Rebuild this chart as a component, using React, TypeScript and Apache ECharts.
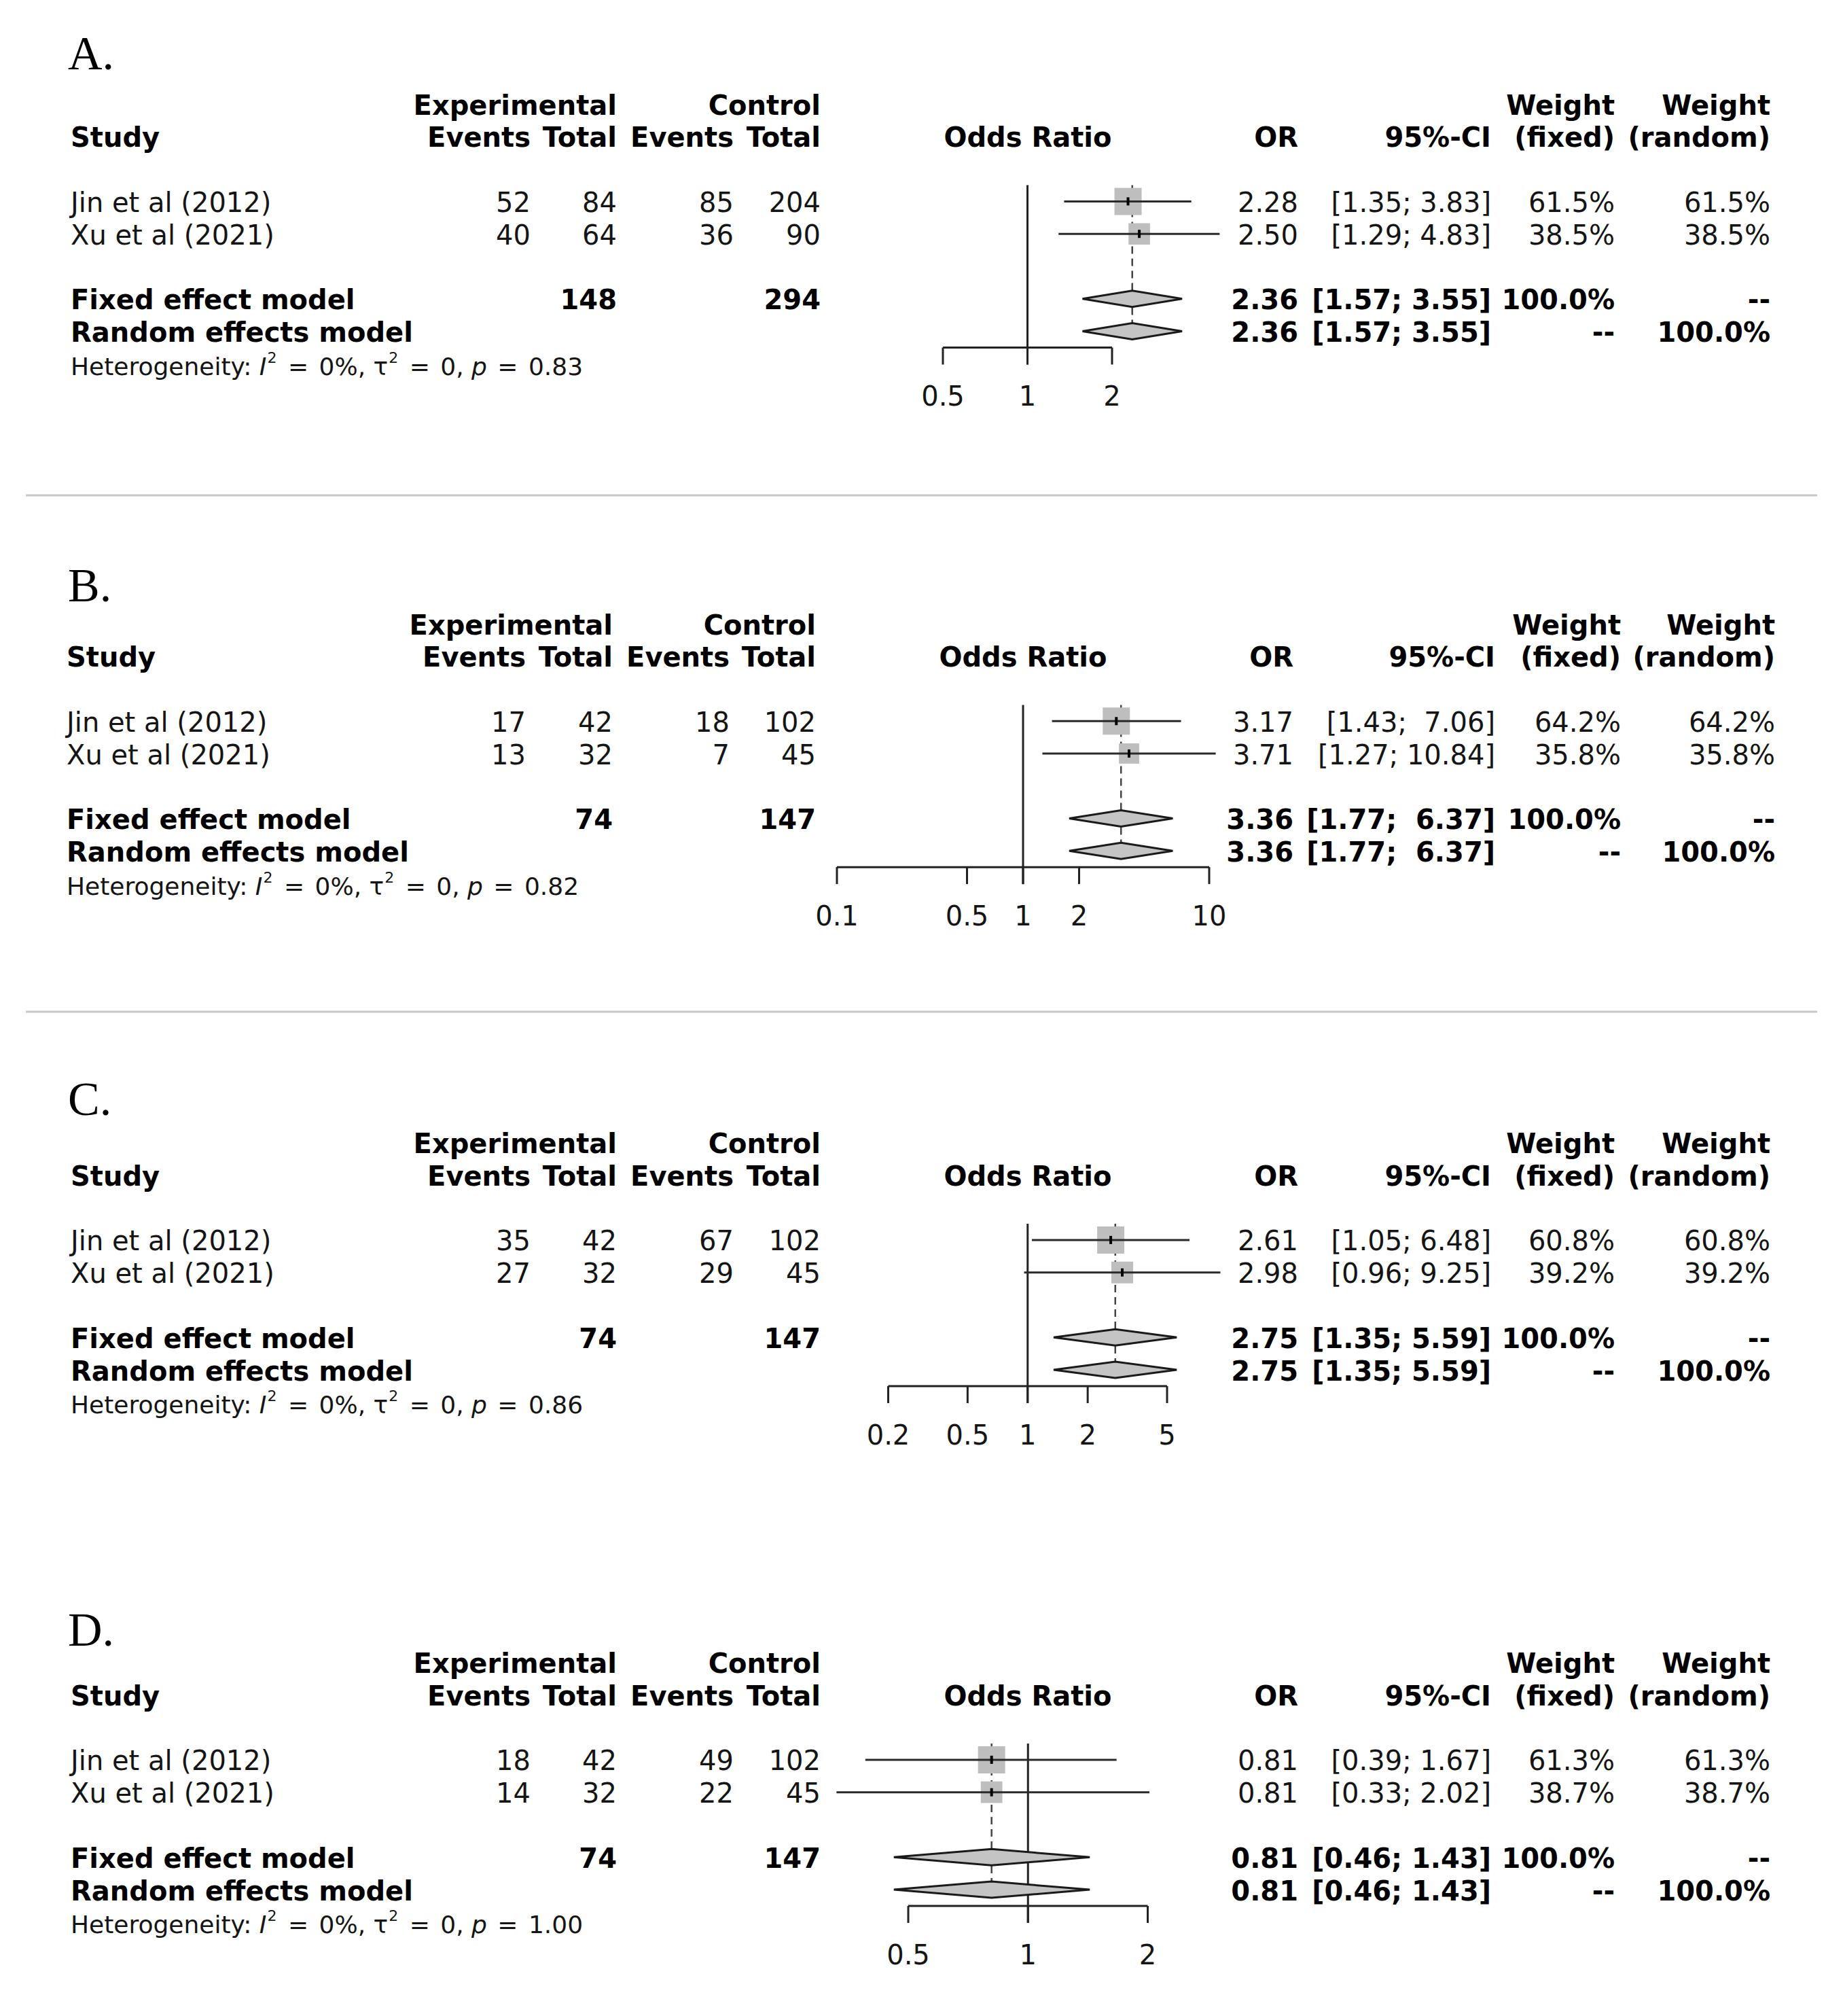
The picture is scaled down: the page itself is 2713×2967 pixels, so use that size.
import React, { useEffect, useRef } from "react";
import * as echarts from "echarts";

// ---------------- DATA ----------------
const panelLabels = ["A.", "B.", "C.", "D."];
const studyNames = ["Jin et al (2012)", "Xu et al (2021)"];
const expEvents = [[52, 40], [17, 13], [35, 27], [18, 14]];
const expTotal = [[84, 64], [42, 32], [42, 32], [42, 32]];
const ctlEvents = [[85, 36], [18, 7], [67, 29], [49, 22]];
const ctlTotal = [[204, 90], [102, 45], [102, 45], [102, 45]];
const studyOR = [[2.28, 2.5], [3.17, 3.71], [2.61, 2.98], [0.81, 0.81]];
const studyLower = [[1.35, 1.29], [1.43, 1.27], [1.05, 0.96], [0.39, 0.33]];
const studyUpper = [[3.83, 4.83], [7.06, 10.84], [6.48, 9.25], [1.67, 2.02]];
const weightFixed = [[61.5, 38.5], [64.2, 35.8], [60.8, 39.2], [61.3, 38.7]];
const weightRandom = [[61.5, 38.5], [64.2, 35.8], [60.8, 39.2], [61.3, 38.7]];
const pooledOR = [2.36, 3.36, 2.75, 0.81];
const pooledLower = [1.57, 1.77, 1.35, 0.46];
const pooledUpper = [3.55, 6.37, 5.59, 1.43];
const hetI2 = ["0%", "0%", "0%", "0%"];
const hetTau2 = ["0", "0", "0", "0"];
const hetP = ["0.83", "0.82", "0.86", "1.00"];
const axisTicks = [[0.5, 1, 2], [0.1, 0.5, 1, 2, 10], [0.2, 0.5, 1, 2, 5], [0.5, 1, 2]];
const axisTickLabels = [
  ["0.5", "1", "2"],
  ["0.1", "0.5", "1", "2", "10"],
  ["0.2", "0.5", "1", "2", "5"],
  ["0.5", "1", "2"],
];
const headerTop = ["Experimental", "Control", "Weight", "Weight"];
const headerBottom = ["Study", "Events", "Total", "Events", "Total", "Odds Ratio", "OR", "95%-CI", "(fixed)", "(random)"];
const modelNames = ["Fixed effect model", "Random effects model"];

// ---------------- LAYOUT / STYLE ----------------
const W = 2713;
const H = 2967;
const FONT = "'DejaVu Sans', sans-serif";
const SERIF = "'Liberation Serif', 'Times New Roman', serif";
const FS = 40;
const HET_FS = 36;
const TICK_LEN = 25;
const DIAMOND_HALF = 12;
const SQUARE_MAX = 40;
const TEXT_COLOR = "#151515";
const LINE_COLOR = "#222";

const colsACD = { study: 104, expEv: 781, expTot: 908, ctlEv: 1080, ctlTot: 1208, odds: 1513, or: 1911, ci: 2195, wf: 2377, wr: 2606 };
const colsB = { study: 98, expEv: 774, expTot: 902, ctlEv: 1074, ctlTot: 1201, odds: 1506, or: 1904, ci: 2201, wf: 2386, wr: 2613 };

const LAYOUT = [
  { row0: 153, rowH: 47.8, axisLeft: 1388, axisRight: 1637, titleY: 78, cols: colsACD },
  { row0: 918, rowH: 47.75, axisLeft: 1232, axisRight: 1780, titleY: 861, cols: colsB },
  { row0: 1681.5, rowH: 47.8, axisLeft: 1307.5, axisRight: 1718, titleY: 1617, cols: colsACD },
  { row0: 2446.5, rowH: 47.8, axisLeft: 1337, axisRight: 1689.5, titleY: 2398, cols: colsACD },
];
const NROWS = 9;
const SEPARATORS = [729, 1489];

type Cell = { row: number; col: string; text: string; align: string; bold: boolean; het?: boolean };

function fmtCI(lo: number, hi: number, loW: number, hiW: number) {
  const pad = (s: string, n: number) => "\u00a0".repeat(Math.max(0, n - s.length)) + s;
  return "[" + pad(lo.toFixed(2), loW) + "; " + pad(hi.toFixed(2), hiW) + "]";
}

function tableCells(p: number): Cell[] {
  const cells: Cell[] = [];
  const add = (row: number, col: string, text: string, align: string, bold: boolean, het = false) =>
    cells.push({ row, col, text, align, bold, het });
  add(0, "expTot", headerTop[0], "right", true);
  add(0, "ctlTot", headerTop[1], "right", true);
  add(0, "wf", headerTop[2], "right", true);
  add(0, "wr", headerTop[3], "right", true);
  const hb = ["study", "expEv", "expTot", "ctlEv", "ctlTot", "odds", "or", "ci", "wf", "wr"];
  hb.forEach((c, k) => add(1, c, headerBottom[k], c === "study" ? "left" : c === "odds" ? "center" : "right", true));

  const lows = [...studyLower[p], pooledLower[p]].map((v) => v.toFixed(2).length);
  const highs = [...studyUpper[p], pooledUpper[p]].map((v) => v.toFixed(2).length);
  const loW = Math.max(...lows);
  const hiW = Math.max(...highs);

  studyNames.forEach((name, k) => {
    const r = 3 + k;
    add(r, "study", name, "left", false);
    add(r, "expEv", String(expEvents[p][k]), "right", false);
    add(r, "expTot", String(expTotal[p][k]), "right", false);
    add(r, "ctlEv", String(ctlEvents[p][k]), "right", false);
    add(r, "ctlTot", String(ctlTotal[p][k]), "right", false);
    add(r, "or", studyOR[p][k].toFixed(2), "right", false);
    add(r, "ci", fmtCI(studyLower[p][k], studyUpper[p][k], loW, hiW), "right", false);
    add(r, "wf", weightFixed[p][k].toFixed(1) + "%", "right", false);
    add(r, "wr", weightRandom[p][k].toFixed(1) + "%", "right", false);
  });
  const sumE = expTotal[p].reduce((a, b) => a + b, 0);
  const sumC = ctlTotal[p].reduce((a, b) => a + b, 0);
  const totalWF = weightFixed[p].reduce((a, b) => a + b, 0);
  const totalWR = weightRandom[p].reduce((a, b) => a + b, 0);
  const pooledCI = fmtCI(pooledLower[p], pooledUpper[p], loW, hiW);
  add(6, "study", modelNames[0], "left", true);
  add(6, "expTot", String(sumE), "right", true);
  add(6, "ctlTot", String(sumC), "right", true);
  add(6, "or", pooledOR[p].toFixed(2), "right", true);
  add(6, "ci", pooledCI, "right", true);
  add(6, "wf", totalWF.toFixed(1) + "%", "right", true);
  add(6, "wr", "--", "right", true);
  add(7, "study", modelNames[1], "left", true);
  add(7, "or", pooledOR[p].toFixed(2), "right", true);
  add(7, "ci", pooledCI, "right", true);
  add(7, "wf", "--", "right", true);
  add(7, "wr", totalWR.toFixed(1) + "%", "right", true);
  add(
    8,
    "study",
    "Heterogeneity: {i|I}{s|2} {e|=} " + hetI2[p] + ", τ{s|2} {e|=} " + hetTau2[p] + ", {i|p} {e|=} " + hetP[p],
    "left",
    false,
    true
  );
  return cells;
}

function buildOption() {
  const grids: any[] = [];
  const xAxes: any[] = [];
  const yAxes: any[] = [];
  const series: any[] = [];
  const graphics: any[] = [];

  LAYOUT.forEach((L, p) => {
    const ticks = axisTicks[p];
    grids.push({
      left: L.axisLeft,
      top: L.row0,
      width: L.axisRight - L.axisLeft,
      height: NROWS * L.rowH,
      containLabel: false,
      outerBoundsMode: "none",
    });
    xAxes.push({ type: "log", logBase: 10, min: ticks[0], max: ticks[ticks.length - 1], gridIndex: p, show: false });
    yAxes.push({ type: "value", min: 0, max: NROWS, inverse: true, gridIndex: p, show: false });

    // reference lines (null effect + pooled estimate)
    series.push({
      type: "custom",
      xAxisIndex: p,
      yAxisIndex: p,
      clip: false,
      z: 1,
      silent: true,
      data: [[1, 2.5]],
      renderItem: (params: any, api: any) => {
        const top = api.coord([1, 2.5]);
        const axisY = api.coord([1, 7.5])[1];
        const px = api.coord([pooledOR[p], 2.5])[0];
        const randY = api.coord([pooledOR[p], 7])[1];
        return {
          type: "group",
          children: [
            { type: "line", shape: { x1: top[0], y1: top[1], x2: top[0], y2: axisY + TICK_LEN }, style: { stroke: LINE_COLOR, lineWidth: 3 } },
            { type: "line", shape: { x1: px, y1: top[1], x2: px, y2: randY - DIAMOND_HALF }, style: { stroke: "#444", lineWidth: 2.5, lineDash: [11, 7] } },
          ],
        };
      },
    });

    // study squares and confidence intervals
    const maxW = Math.max(...weightFixed[p]);
    series.push({
      type: "custom",
      xAxisIndex: p,
      yAxisIndex: p,
      clip: false,
      z: 2,
      silent: true,
      encode: { x: 0, y: 1 },
      data: studyNames.map((_, k) => [studyOR[p][k], 3 + k, studyLower[p][k], studyUpper[p][k], weightFixed[p][k]]),
      renderItem: (params: any, api: any) => {
        const row = api.value(1);
        const c = api.coord([api.value(0), row]);
        const l = api.coord([api.value(2), row]);
        const h = api.coord([api.value(3), row]);
        const side = SQUARE_MAX * Math.sqrt(api.value(4) / maxW);
        return {
          type: "group",
          children: [
            { type: "rect", shape: { x: c[0] - side / 2, y: c[1] - side / 2, width: side, height: side }, style: { fill: "#bebebe" } },
            { type: "line", shape: { x1: l[0], y1: c[1], x2: h[0], y2: c[1] }, style: { stroke: "#2a2a2a", lineWidth: 3 } },
            { type: "rect", shape: { x: c[0] - 2, y: c[1] - 6, width: 4, height: 12 }, style: { fill: "#000" } },
          ],
        };
      },
    });

    // pooled diamonds
    series.push({
      type: "custom",
      xAxisIndex: p,
      yAxisIndex: p,
      clip: false,
      z: 3,
      silent: true,
      encode: { x: 0, y: 1 },
      data: [
        [pooledOR[p], 6, pooledLower[p], pooledUpper[p]],
        [pooledOR[p], 7, pooledLower[p], pooledUpper[p]],
      ],
      renderItem: (params: any, api: any) => {
        const row = api.value(1);
        const c = api.coord([api.value(0), row]);
        const l = api.coord([api.value(2), row]);
        const h = api.coord([api.value(3), row]);
        return {
          type: "polygon",
          shape: { points: [[l[0], c[1]], [c[0], c[1] - DIAMOND_HALF], [h[0], c[1]], [c[0], c[1] + DIAMOND_HALF]] },
          style: { fill: "#c4c4c4", stroke: "#1a1a1a", lineWidth: 3, lineJoin: "miter" },
        };
      },
    });

    // x axis (log scale) drawn over the tick range
    series.push({
      type: "custom",
      xAxisIndex: p,
      yAxisIndex: p,
      clip: false,
      z: 2,
      silent: true,
      data: [[1, 7.5]],
      renderItem: (params: any, api: any) => {
        const y = api.coord([1, 7.5])[1];
        const ly = api.coord([1, 9])[1];
        const x0 = api.coord([ticks[0], 7.5])[0];
        const x1 = api.coord([ticks[ticks.length - 1], 7.5])[0];
        const children: any[] = [
          { type: "line", shape: { x1: x0, y1: y, x2: x1, y2: y }, style: { stroke: LINE_COLOR, lineWidth: 3 } },
        ];
        ticks.forEach((t, k) => {
          const tx = api.coord([t, 7.5])[0];
          children.push({ type: "line", shape: { x1: tx, y1: y, x2: tx, y2: y + TICK_LEN }, style: { stroke: LINE_COLOR, lineWidth: 3 } });
          children.push({
            type: "text",
            x: tx,
            y: ly,
            style: { text: axisTickLabels[p][k], fill: TEXT_COLOR, fontSize: FS, fontFamily: FONT, align: "center", verticalAlign: "middle" },
          });
        });
        return { type: "group", children };
      },
    });

    // table text
    const cells = tableCells(p);
    series.push({
      type: "custom",
      xAxisIndex: p,
      yAxisIndex: p,
      clip: false,
      z: 4,
      silent: true,
      data: cells.map((c) => [1, c.row]),
      renderItem: (params: any, api: any) => {
        const cell = cells[params.dataIndex];
        const y = api.coord([1, cell.row])[1] + (cell.het ? 4 : 1.5);
        const x = (L.cols as any)[cell.col];
        const style: any = {
          text: cell.text,
          fill: cell.bold ? "#000" : TEXT_COLOR,
          fontSize: cell.het ? HET_FS : FS,
          fontFamily: FONT,
          fontWeight: cell.bold ? "bold" : "normal",
          align: cell.align,
          verticalAlign: "middle",
        };
        if (cell.het) {
          style.lineHeight = 48;
          style.rich = {
            i: { fontStyle: "italic", fontSize: HET_FS, lineHeight: 48, fontFamily: FONT, fill: TEXT_COLOR },
            e: { fontSize: HET_FS, lineHeight: 48, fontFamily: FONT, fill: TEXT_COLOR, padding: [0, 4, 0, 4] },
            s: { fontSize: 22, lineHeight: 22, fontFamily: FONT, fill: TEXT_COLOR, verticalAlign: "top", padding: [0, 1, 0, 1] },
          };
        }
        return { type: "text", x, y, style };
      },
    });

    graphics.push({
      type: "text",
      x: 100,
      y: L.titleY,
      style: { text: panelLabels[p], fill: "#000", fontSize: 70, fontFamily: SERIF, align: "left", verticalAlign: "middle" },
    });
  });

  SEPARATORS.forEach((y) =>
    graphics.push({ type: "line", shape: { x1: 38, y1: y, x2: 2675, y2: y }, style: { stroke: "#c8c8c8", lineWidth: 3 } })
  );

  return {
    animation: false,
    backgroundColor: "#ffffff",
    grid: grids,
    xAxis: xAxes,
    yAxis: yAxes,
    series,
    graphic: graphics,
  };
}

export default function App() {
  const ref = useRef<HTMLDivElement>(null);
  useEffect(() => {
    if (!ref.current) return;
    const chart = echarts.init(ref.current, null, { renderer: "svg" });
    chart.setOption(buildOption() as any);
    return () => chart.dispose();
  }, []);
  return (
    <div
      ref={ref}
      style={{ position: "absolute", left: 0, top: 0, width: W, height: H, background: "#fff" }}
    />
  );
}
